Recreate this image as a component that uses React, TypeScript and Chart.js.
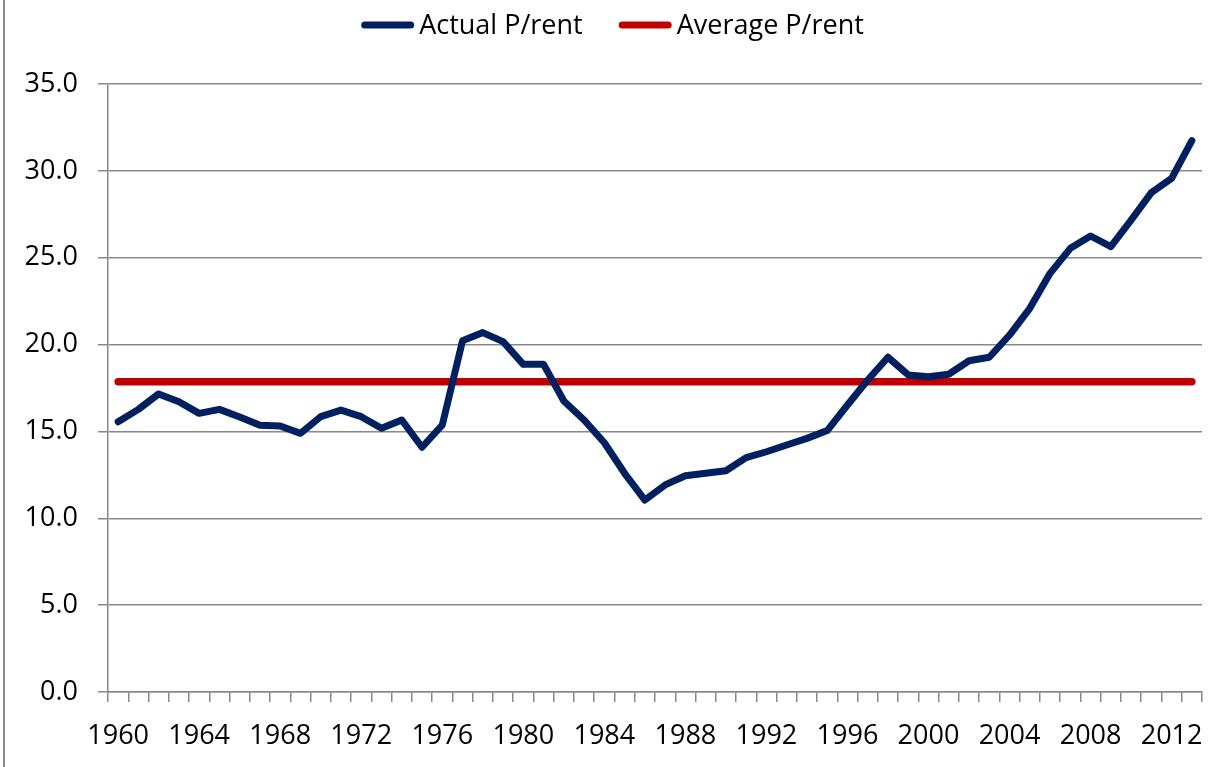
import React, { useEffect, useRef } from "react";
import { Chart, registerables } from "chart.js";

Chart.register(...registerables);

const years = [
  "1960", "1961", "1962", "1963", "1964", "1965", "1966", "1967", "1968", "1969",
  "1970", "1971", "1972", "1973", "1974", "1975", "1976", "1977", "1978", "1979",
  "1980", "1981", "1982", "1983", "1984", "1985", "1986", "1987", "1988", "1989",
  "1990", "1991", "1992", "1993", "1994", "1995", "1996", "1997", "1998", "1999",
  "2000", "2001", "2002", "2003", "2004", "2005", "2006", "2007", "2008", "2009",
  "2010", "2011", "2012", "2013",
];

const actualPRent = [
  15.56, 16.27, 17.16, 16.71, 16.04, 16.27, 15.83, 15.35, 15.31, 14.89,
  15.85, 16.23, 15.85, 15.18, 15.66, 14.09, 15.37, 20.22, 20.69, 20.17,
  18.86, 18.86, 16.75, 15.66, 14.35, 12.59, 11.05, 11.92, 12.45, 12.59,
  12.74, 13.49, 13.83, 14.22, 14.6, 15.05, 16.52, 17.96, 19.27, 18.25,
  18.15, 18.29, 19.07, 19.27, 20.55, 22.09, 24.1, 25.54, 26.25, 25.64,
  27.17, 28.75, 29.57, 31.74,
];

const averagePRent = 17.86;
const averageStart = "1960";
const averageEnd = "2013";

const seriesLabels = ["Actual P/rent", "Average P/rent"];
const seriesColors = ["#002060", "#C00000"];

const FONT = "'Open Sans', 'Liberation Sans', sans-serif";
const FONT_SIZE = 27;
const GRID = "#898989";

const lineLegend = {
  id: "lineLegend",
  afterDraw(chart: any) {
    const ctx = chart.ctx;
    ctx.save();
    ctx.font = `${FONT_SIZE}px ${FONT}`;
    const items = chart.data.datasets.map((ds: any) => ({
      label: ds.label,
      color: ds.borderColor,
      w: ctx.measureText(ds.label).width,
    }));
    const lineLen = 53;
    const gapText = 5;
    const gapItem = 36;
    const total = items.reduce(
      (s: number, it: any, i: number) => s + lineLen + gapText + it.w + (i ? gapItem : 0),
      0
    );
    let x = chart.width / 2 - total / 2;
    const y = 25;
    items.forEach((it: any) => {
      ctx.strokeStyle = it.color;
      ctx.lineWidth = 7;
      ctx.lineCap = "round";
      ctx.beginPath();
      ctx.moveTo(x + 3.5, y);
      ctx.lineTo(x + lineLen - 3.5, y);
      ctx.stroke();
      x += lineLen + gapText;
      ctx.fillStyle = "#000";
      ctx.textBaseline = "middle";
      ctx.textAlign = "left";
      ctx.fillText(it.label, x, y + 1);
      x += it.w + gapItem;
    });
    ctx.restore();
  },
};

export default function App() {
  const canvasRef = useRef<HTMLCanvasElement | null>(null);

  useEffect(() => {
    document.body.style.margin = "0";
    const canvas = canvasRef.current;
    if (!canvas) return;
    Chart.defaults.font.family = FONT;
    Chart.defaults.font.size = FONT_SIZE;
    Chart.defaults.color = "#000";

    const chart = new Chart(canvas, {
      type: "line",
      data: {
        labels: years,
        datasets: [
          {
            label: seriesLabels[0],
            data: actualPRent,
            borderColor: seriesColors[0],
            backgroundColor: seriesColors[0],
            borderWidth: 7,
            pointRadius: 0,
            borderCapStyle: "round",
            borderJoinStyle: "round",
            tension: 0,
          },
          {
            label: seriesLabels[1],
            data: [
              { x: averageStart, y: averagePRent },
              { x: averageEnd, y: averagePRent },
            ] as any,
            borderColor: seriesColors[1],
            backgroundColor: seriesColors[1],
            borderWidth: 7.5,
            pointRadius: 0,
            borderCapStyle: "round",
            tension: 0,
          },
        ],
      },
      options: {
        animation: false,
        responsive: true,
        maintainAspectRatio: false,
        layout: { padding: { top: 84, right: 23, bottom: 0, left: 0 } },
        plugins: {
          legend: { display: false },
          tooltip: { enabled: false },
        },
        scales: {
          x: {
            type: "category",
            offset: true,
            grid: {
              offset: true,
              drawOnChartArea: false,
              drawTicks: true,
              tickLength: 10,
              color: GRID,
              lineWidth: 1.5,
            },
            border: { color: GRID, width: 1.5 },
            ticks: {
              autoSkip: false,
              maxRotation: 0,
              minRotation: 0,
              padding: 18,
              color: "#000",
              font: { size: FONT_SIZE, family: FONT },
              callback: (_v: any, i: number) => (i % 4 === 0 ? years[i] : ""),
            },
            afterFit: (scale: any) => {
              scale.height = 75;
            },
          },
          y: {
            min: 0,
            max: 35,
            grid: {
              color: GRID,
              lineWidth: 1.5,
              drawTicks: true,
              tickLength: 10,
            },
            border: { color: GRID, width: 1.5 },
            ticks: {
              stepSize: 5,
              padding: 20,
              color: "#000",
              font: { size: FONT_SIZE, family: FONT },
              callback: (v: any) => Number(v).toFixed(1),
            },
            afterFit: (scale: any) => {
              scale.width = 108;
            },
          },
        },
      },
      plugins: [lineLegend],
    });
    return () => chart.destroy();
  }, []);

  return (
    <div style={{ position: "relative", width: 1225, height: 767, background: "#fff" }}>
      <div
        style={{
          position: "absolute",
          left: 3,
          top: 0,
          width: 2,
          height: 767,
          background: "#8c8c8c",
        }}
      />
      <canvas ref={canvasRef} />
    </div>
  );
}
